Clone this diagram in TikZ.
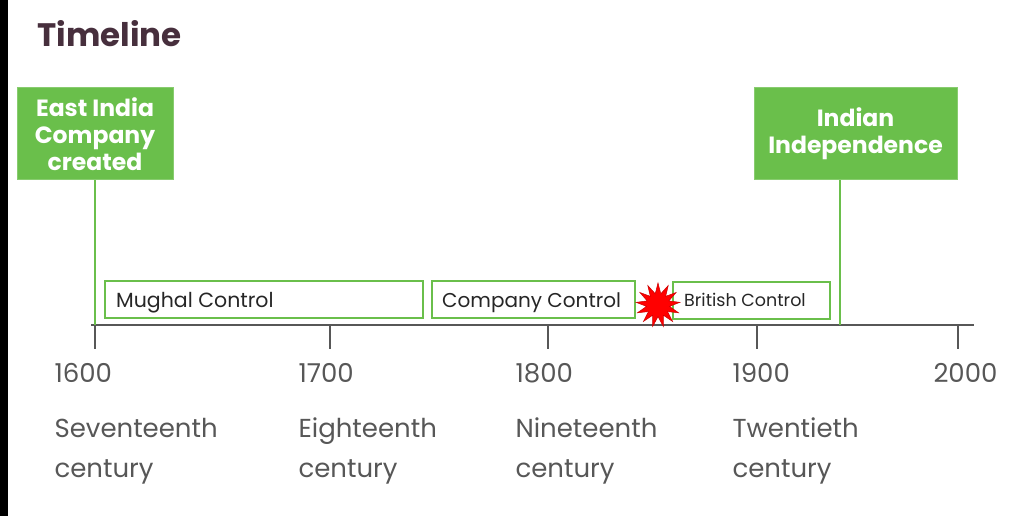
\documentclass[tikz,border=0pt]{standalone}
\usepackage{fontspec}
\setmainfont{Poppins}
\usetikzlibrary{shapes.geometric}
\definecolor{tlgreen}{HTML}{6ABF4B}
\definecolor{tlgray}{HTML}{575757}
\definecolor{tltitle}{HTML}{472F3D}

\begin{document}
\begin{tikzpicture}[x=1pt, y=-1pt,
	event/.style={fill=tlgreen, draw=tlgreen!80!white, line width=1pt, text=white, align=center, inner sep=0pt,
	  font=\fontsize{23.5}{27}\selectfont\bfseries},
	span/.style={draw=tlgreen, line width=2pt, inner sep=0pt, minimum height=37pt},
	spantext/.style={anchor=base west, text=black!85, inner sep=0pt},
	year/.style={anchor=base west, text=tlgray, font=\fontsize{26}{30}\selectfont},
	century/.style={anchor=base west, text=tlgray, align=left, font=\fontsize{26}{40}\selectfont}]
	\useasboundingbox (0,0) rectangle (1023,516);
	\fill[black] (0,0) rectangle (8,516);
	\node[anchor=base west, text=tltitle, font=\fontsize{32.5}{36}\selectfont\bfseries] (title) at (34,47) {Timeline};
	% axis and ticks
	\coordinate (axisL) at (91,325);
	\coordinate (axisR) at (974,325);
	\draw[tlgray, line width=2pt] (axisL) -- (axisR);
	\foreach \yr/\x in {1600/95, 1700/330, 1800/548, 1900/757, 2000/958} {
	  \coordinate (t\yr) at (\x,325);
	  \draw[tlgray, line width=2pt] (t\yr) -- ++(0,24);
	}
	\node[year] (y1600) at (51,382) {1600};
	\node[year] (y1700) at (295,382) {1700};
	\node[year] (y1800) at (512,382) {1800};
	\node[year] (y1900) at (729,382) {1900};
	\node[year] (y2000) at (930,382) {2000};
	\node[century] (c17) at (51,477) {Seventeenth\\century};
	\node[century] (c18) at (295,477) {Eighteenth\\century};
	\node[century] (c19) at (512,477) {Nineteenth\\century};
	\node[century] (c20) at (729,477) {Twentieth\\century};
	% periods
	\node[span, minimum width=318pt] (mughal) at (264,299.5) {};
	\node[span, minimum width=203pt] (company) at (533.5,299.5) {};
	\node[span, minimum width=157pt] (british) at (751.5,300) {};
	\node[spantext, font=\fontsize{20.5}{22}\selectfont] (mughalT) at (116,307) {Mughal Control};
	\node[spantext, font=\fontsize{20}{22}\selectfont] (companyT) at (442,307) {Company Control};
	\node[spantext, font=\fontsize{17.5}{20}\selectfont] (britishT) at (684,306) {British Control};
	\node[star, star points=13, star point ratio=1.9, minimum size=44pt, inner sep=0pt, fill=red, draw=red!80!black, line width=0.5pt] (mutiny) at (658,305) {};
	% events
	\node[event, minimum width=156pt, minimum height=92pt] (eic) at (95,134) {East India\\Company\\created};
	\node[event, minimum width=203pt, minimum height=92pt] (indep) at (855.5,134) {Indian\\Independence};
	\coordinate (t1947) at (840,325);
	\draw[tlgreen, line width=1.5pt] (eic.south) -- (t1600);
	\draw[tlgreen, line width=1.5pt] (t1947 |- indep.south) -- (t1947);
\end{tikzpicture}
\end{document}
